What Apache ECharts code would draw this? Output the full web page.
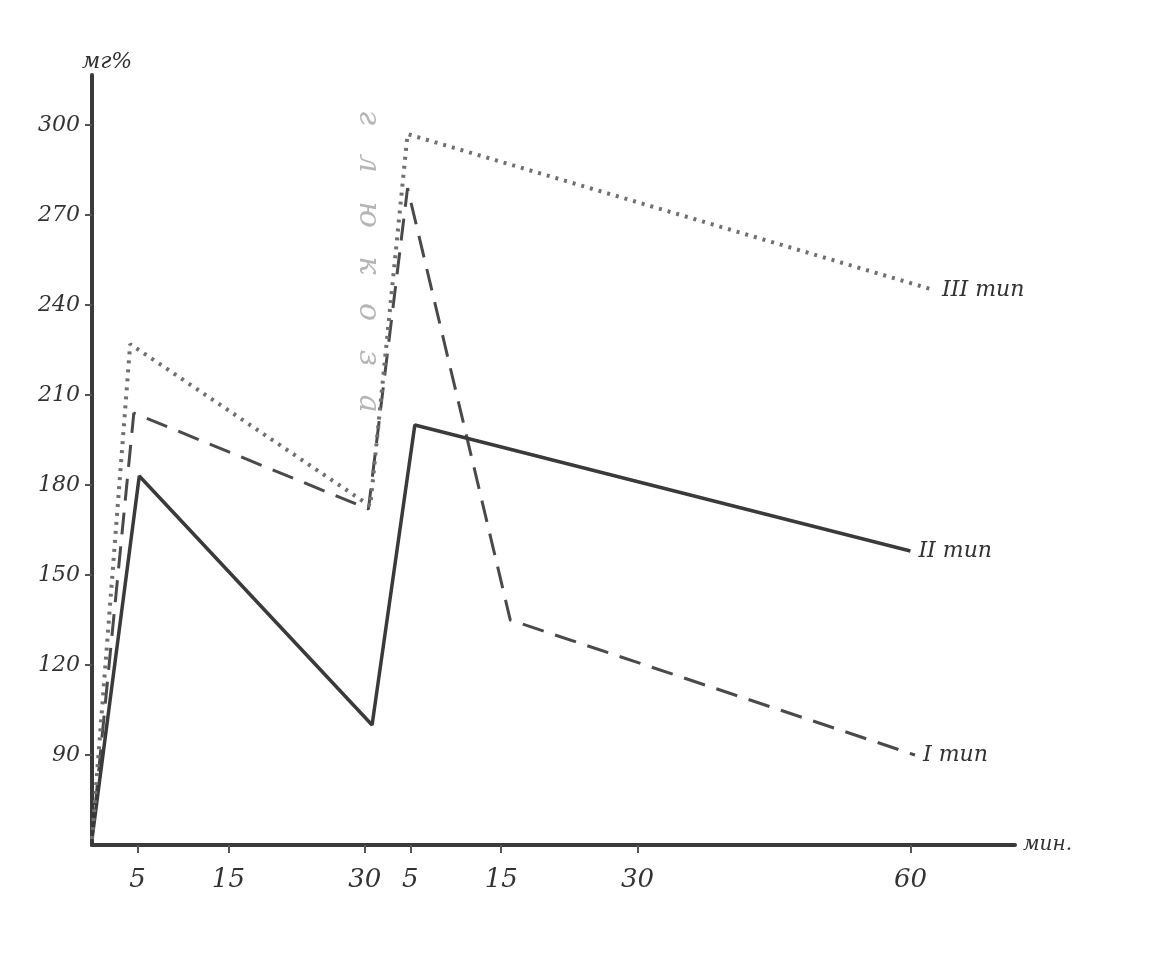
<!DOCTYPE html>
<html>
<head>
<meta charset="utf-8">
<script src="https://cdn.jsdelivr.net/npm/echarts@6/dist/echarts.min.js"></script>
<style>
  html, body { margin: 0; padding: 0; background: #fff; }
  #chart { width: 1164px; height: 962px; }
</style>
</head>
<body>
<div id="chart"></div>
<script>
// minutes from start; second load given at 30 min
const xTicks = [5, 15, 30, 35, 45, 60, 90];
const xTickLabels = ['5', '15', '30', '5', '15', '30', '60'];
const yTicks = [90, 120, 150, 180, 210, 240, 270, 300];

const type1 = [[0, 62], [4.6, 204], [30.4, 172], [34.7, 279], [46, 135], [90.5, 90]];
const type2 = [[0, 62], [5.2, 183], [30.8, 100], [35.5, 200], [90, 158]];
const type3 = [[0, 62], [4.2, 227], [30.6, 173], [34.7, 297], [92.6, 245]];

const names = ['I тип', 'II тип', 'III тип'];

const chart = echarts.init(document.getElementById('chart'));
const font = 'DejaVu Serif';

function line(name, data, color, type, width) {
  return {
    name: name,
    type: 'line',
    data: data,
    symbol: 'none',
    lineStyle: { color: color, width: width, type: type },
    endLabel: {
      show: true,
      formatter: name,
      distance: 8,
      color: '#333',
      fontFamily: font,
      fontStyle: 'italic',
      fontSize: 22
    }
  };
}

const option = {
  backgroundColor: '#fff',
  animation: false,
  grid: { left: 92, top: 75, width: 923, height: 770 },
  xAxis: {
    type: 'value',
    min: 0,
    max: 101.5,
    name: 'мин.',
    nameGap: 8,
    nameTextStyle: { color: '#333', fontFamily: font, fontStyle: 'italic', fontSize: 20, verticalAlign: 'middle' },
    axisLine: { lineStyle: { color: '#3a3a3a', width: 4 } },
    axisTick: { show: true, customValues: xTicks, length: 8, lineStyle: { color: '#555', width: 2 } },
    axisLabel: {
      customValues: xTicks,
      formatter: v => xTickLabels[xTicks.indexOf(v)] || '',
      color: '#333',
      fontFamily: font,
      fontStyle: 'italic',
      fontSize: 26,
      margin: 22
    },
    splitLine: { show: false }
  },
  yAxis: {
    type: 'value',
    min: 60,
    max: 316.7,
    interval: 30,
    name: 'мг%',
    nameGap: 2,
    nameTextStyle: { color: '#333', fontFamily: font, fontStyle: 'italic', fontSize: 22, align: 'left', padding: [0, 0, 0, -10] },
    axisLine: { show: true, lineStyle: { color: '#3a3a3a', width: 4 } },
    axisTick: { show: true, customValues: yTicks, length: 7, lineStyle: { color: '#555', width: 2 } },
    axisLabel: {
      customValues: yTicks,
      formatter: v => String(v),
      color: '#333',
      fontFamily: font,
      fontStyle: 'italic',
      fontSize: 22,
      margin: 12
    },
    splitLine: { show: false }
  },
  graphic: [{
    type: 'text',
    x: 368,
    y: 110,
    rotation: -Math.PI / 2,
    style: {
      text: 'г   л   ю   к   о   з   а',
      fill: '#b5b5b5',
      font: 'italic 30px "DejaVu Serif"',
      align: 'left',
      verticalAlign: 'middle'
    }
  }],
  series: [
    line(names[0], type1, '#4a4a4a', [22, 12], 3),
    line(names[1], type2, '#3a3a3a', 'solid', 3.5),
    line(names[2], type3, '#707070', [3, 6], 4)
  ]
};

chart.setOption(option);
</script>
</body>
</html>
